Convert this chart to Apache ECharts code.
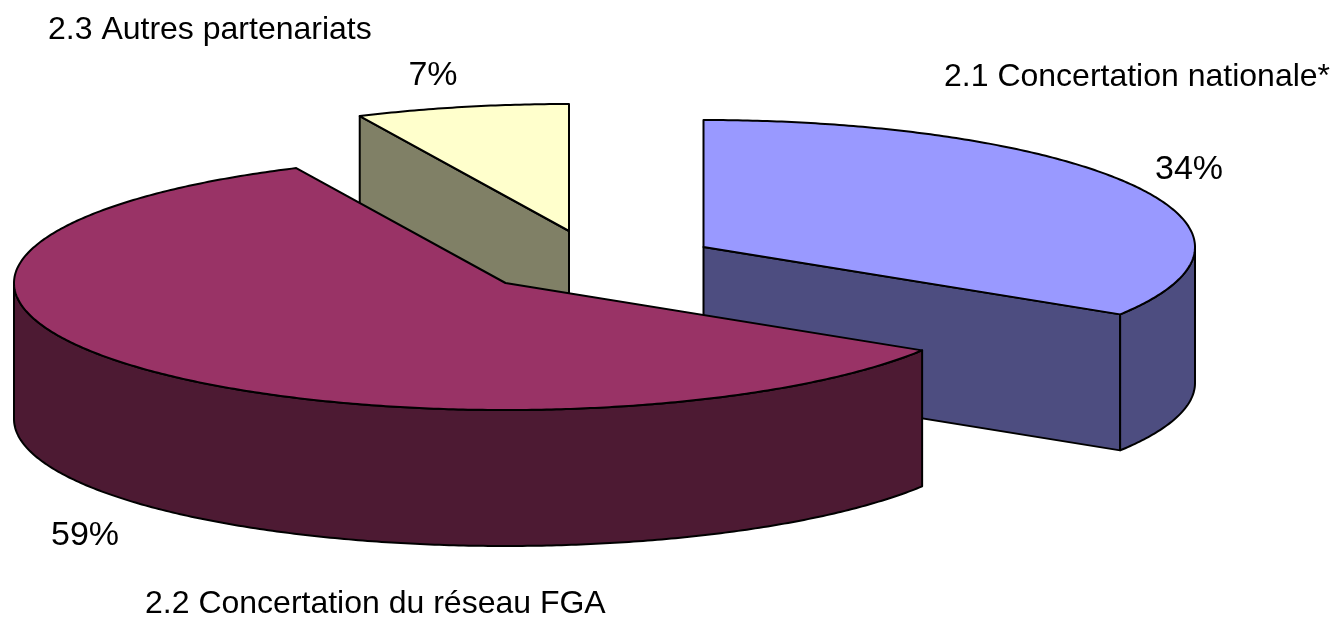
<!DOCTYPE html>
<html><head><meta charset="utf-8">
<style>html,body{margin:0;padding:0;background:#fff}#c{width:1334px;height:618px}</style>
<script src="https://cdn.jsdelivr.net/npm/echarts@6/dist/echarts.min.js"></script>
</head><body><div id="c"></div>
<script>
const categories = ['2.1 Concertation nationale*', '2.2 Concertation du réseau FGA', '2.3 Autres partenariats'];
const values = [33.9, 59.1, 7];
const percentLabels = ['34%', '59%', '7%'];
const topColors = ['#9999FF', '#993366', '#FFFFCC'];
const sideColors = ['#4D4D80', '#4D1A33', '#808066'];
const centerX = [703.5, 505.5, 569];
const centerY = [247, 283, 231];
const nameX = [944, 145, 48];
const nameY = [77, 604, 30];
const pctX = [1189, 85, 433];
const pctY = [170, 536, 76];
const drawOrder = [2, 0, 1];
const RX = 491.5, RY = 127, DEPTH = 136;

const chart = echarts.init(document.getElementById('c'), null, {renderer: 'canvas'});
const total = values.reduce((a, b) => a + b, 0);
const starts = [];
values.reduce((acc, v, i) => { starts[i] = acc; return acc + v; }, 0);
const rad = v => v / total * Math.PI * 2;

function renderSlice(params, api) {
  const i = api.value(0);
  const a0 = rad(starts[i]), a1 = rad(starts[i] + values[i]);
  const pt = (a, d) => api.coord([centerX[i] + RX * Math.sin(a), centerY[i] - RY * Math.cos(a) + d]);
  const apex = d => api.coord([centerX[i], centerY[i] + d]);
  const arc = (from, to, d) => {
    const n = Math.max(2, Math.ceil((to - from) / 0.01)), r = [];
    for (let k = 0; k <= n; k++) r.push(pt(from + (to - from) * k / n, d));
    return r;
  };
  const style = fill => ({fill, stroke: '#000', lineWidth: 2, lineJoin: 'round'});
  const children = [];
  const wall = (a) => children.push({type: 'polygon', shape: {points: [apex(0), pt(a, 0), pt(a, DEPTH), apex(DEPTH)]}, style: style(sideColors[i])});
  if (Math.sin(a0) < -1e-9) wall(a0);
  if (Math.sin(a1) > 1e-9) wall(a1);
  const f0 = Math.max(a0, Math.PI / 2), f1 = Math.min(a1, Math.PI * 1.5);
  if (f1 > f0) {
    children.push({type: 'polygon', shape: {points: arc(f0, f1, 0).concat(arc(f0, f1, DEPTH).reverse())}, style: style(sideColors[i])});
  }
  children.push({type: 'polygon', shape: {points: [apex(0)].concat(arc(a0, a1, 0))}, style: style(topColors[i])});
  return {type: 'group', children};
}

const textColor = '#000000';
const textLabel = (size, position, distance) => ({show: true, position, distance, formatter: p => p.name,
  fontFamily: 'Liberation Sans', fontSize: size, color: textColor, opacity: 1, textBorderWidth: 0});
chart.setOption({
  animation: false,
  backgroundColor: '#fff',
  grid: {left: 0, right: 0, top: 0, bottom: 0},
  xAxis: {type: 'value', min: 0, max: 1334, show: false},
  yAxis: {type: 'value', min: 0, max: 618, inverse: true, show: false},
  series: [
    {type: 'custom', coordinateSystem: 'cartesian2d', clip: false, silent: true, renderItem: renderSlice,
     encode: {x: 1, y: 1}, data: drawOrder.map(i => [i, values[i]])},
    {type: 'scatter', symbolSize: 0, silent: true, data: categories.map((c, i) => ({value: [nameX[i], nameY[i]], name: c})),
     label: textLabel(32, 'right', 0)},
    {type: 'scatter', symbolSize: 0, silent: true, data: percentLabels.map((c, i) => ({value: [pctX[i], pctY[i]], name: c})),
     label: textLabel(34, 'inside', 0)}
  ]
});
</script></body></html>
